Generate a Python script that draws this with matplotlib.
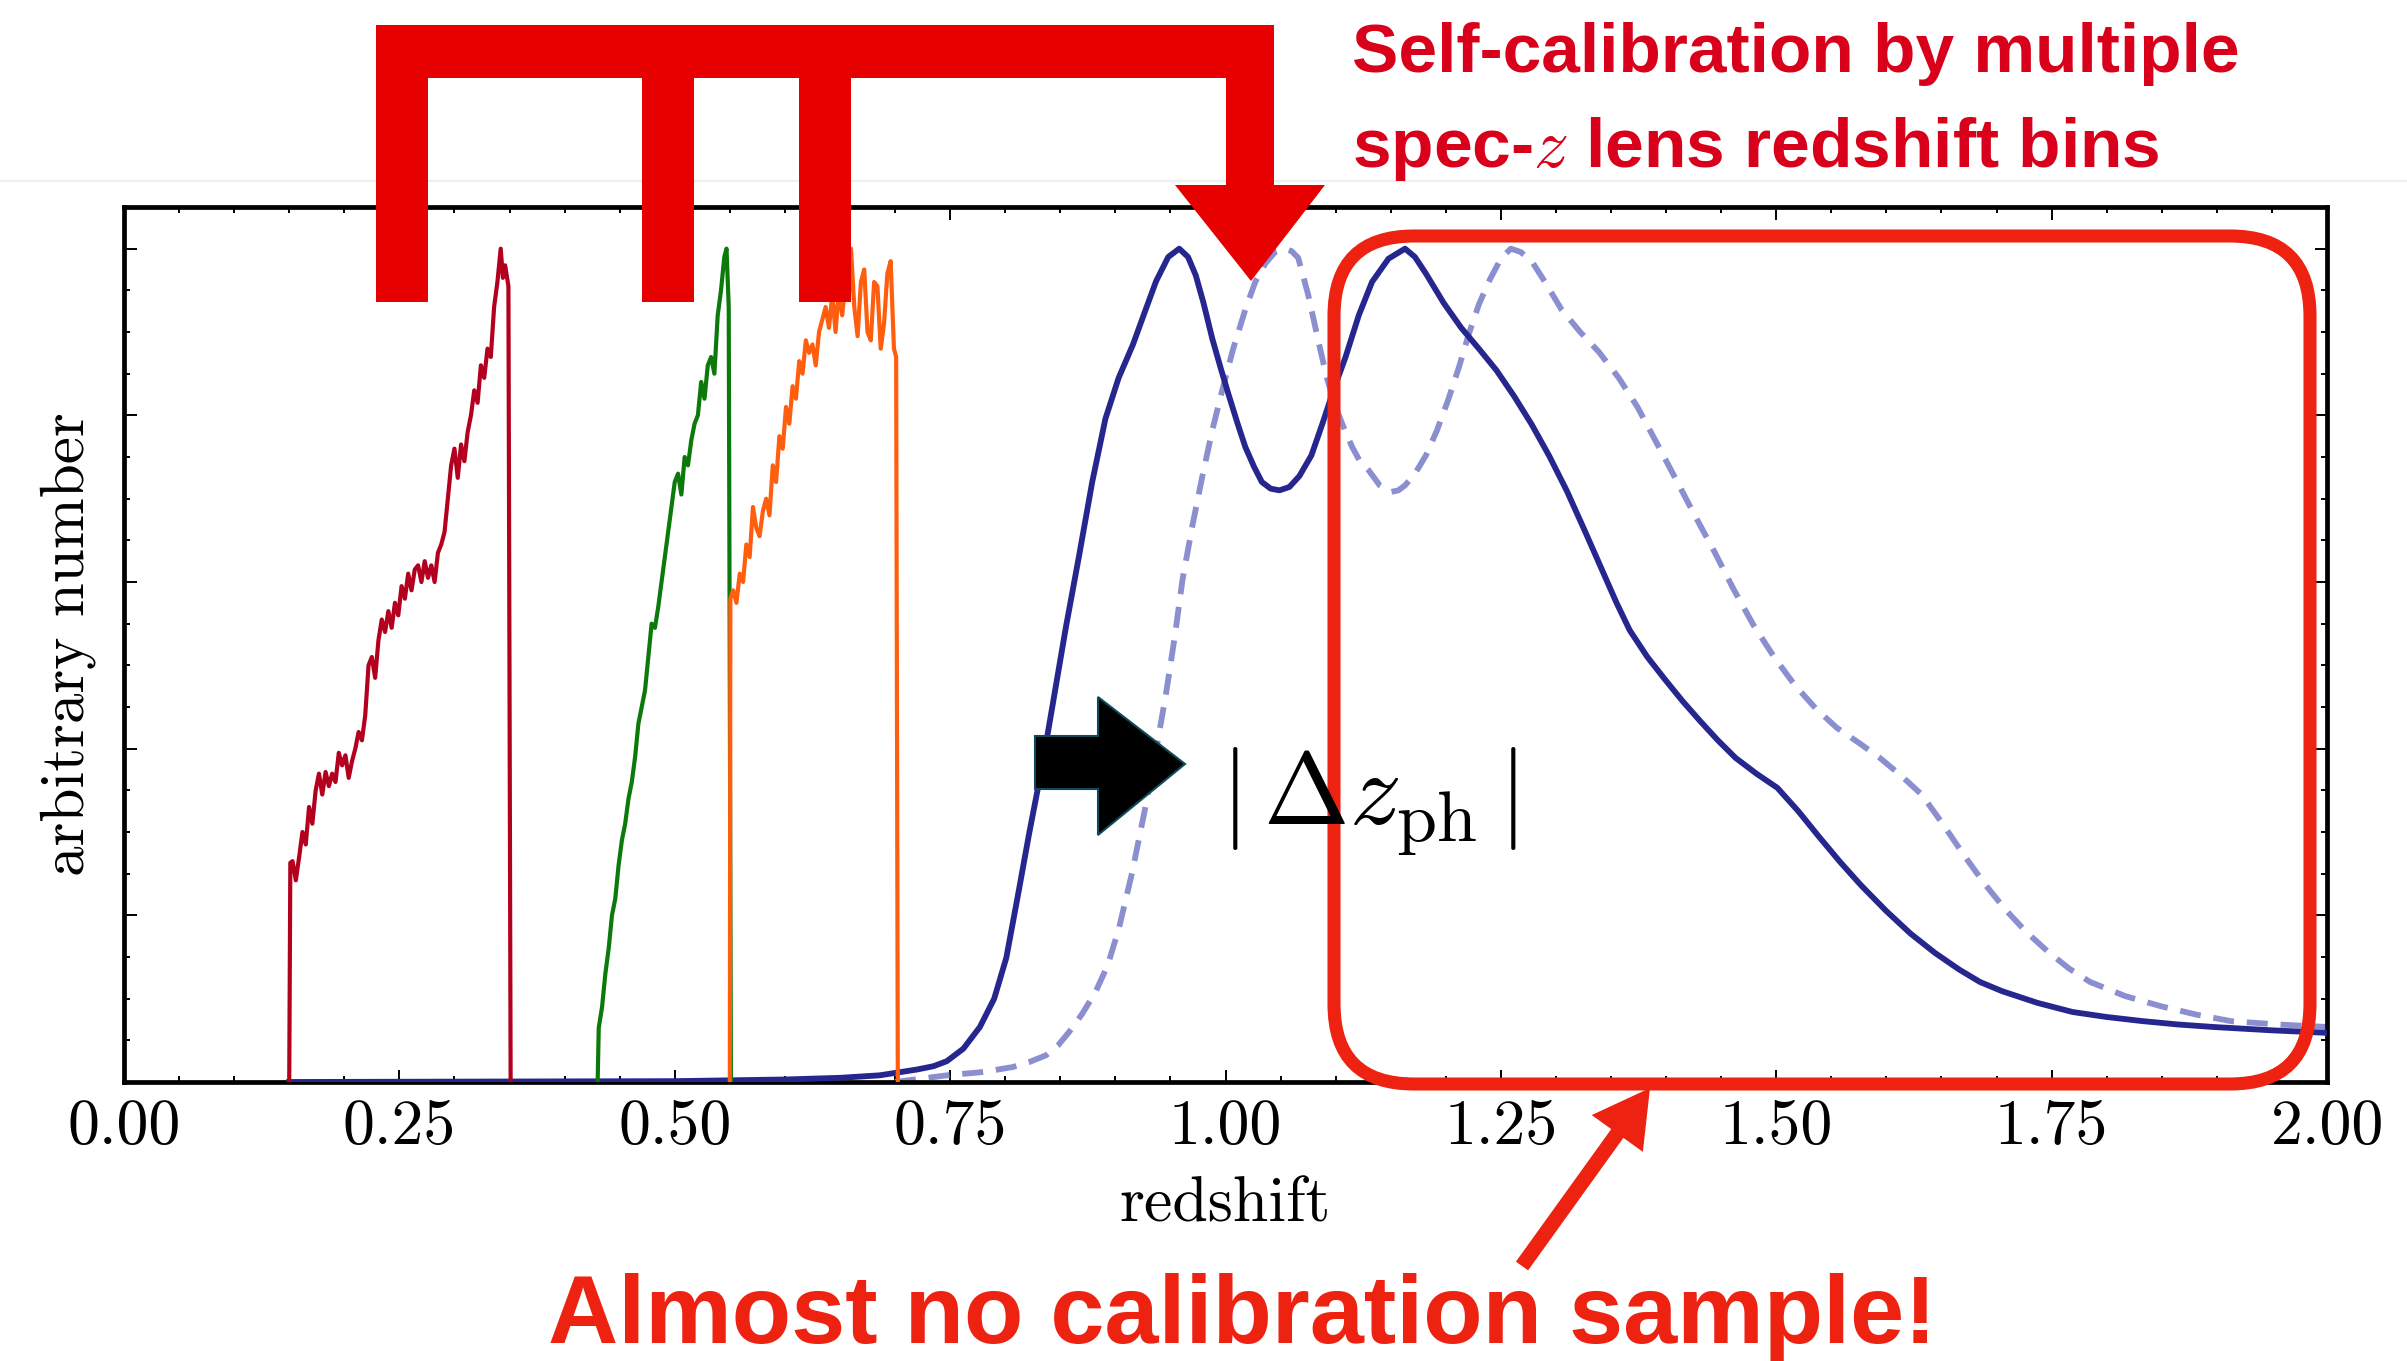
import matplotlib
matplotlib.use("Agg")
import matplotlib.pyplot as plt
from matplotlib.patches import Rectangle, Polygon, FancyBboxPatch, FancyArrow
from matplotlib.ticker import MultipleLocator, FormatStrFormatter

plt.rcParams["mathtext.fontset"] = "cm"
plt.rcParams["axes.formatter.use_mathtext"] = True

# ---- spec-z lens samples (three redshift bins) ----
red_z = [0.150, 0.151, 0.153, 0.156, 0.159, 0.162, 0.165, 0.168, 0.171, 0.174,
         0.177, 0.180, 0.183, 0.186, 0.189, 0.192, 0.195, 0.198, 0.201, 0.204,
         0.207, 0.210, 0.213, 0.216, 0.219, 0.222, 0.225, 0.228, 0.231, 0.234,
         0.237, 0.240, 0.243, 0.246, 0.249, 0.252, 0.255, 0.258, 0.261, 0.264,
         0.267, 0.270, 0.273, 0.276, 0.279, 0.282, 0.285, 0.288, 0.291, 0.294,
         0.297, 0.300, 0.303, 0.306, 0.309, 0.312, 0.315, 0.318, 0.321, 0.324,
         0.327, 0.330, 0.333, 0.336, 0.339, 0.342, 0.344, 0.346, 0.349, 0.351]
red_n = [0.000, 0.263, 0.265, 0.242, 0.270, 0.300, 0.285, 0.330, 0.310, 0.350,
         0.370, 0.345, 0.372, 0.355, 0.370, 0.360, 0.395, 0.380, 0.392, 0.365,
         0.385, 0.400, 0.420, 0.410, 0.440, 0.500, 0.510, 0.485, 0.530, 0.555,
         0.540, 0.565, 0.545, 0.575, 0.560, 0.595, 0.580, 0.610, 0.590, 0.615,
         0.620, 0.600, 0.625, 0.605, 0.620, 0.600, 0.635, 0.645, 0.660, 0.700,
         0.740, 0.760, 0.725, 0.765, 0.745, 0.780, 0.800, 0.830, 0.815, 0.860,
         0.845, 0.880, 0.870, 0.930, 0.960, 1.000, 0.965, 0.980, 0.955, 0.000]

green_z = [0.430, 0.431, 0.434, 0.437, 0.440, 0.443, 0.446, 0.449, 0.452, 0.455,
           0.458, 0.461, 0.464, 0.467, 0.470, 0.473, 0.476, 0.479, 0.482, 0.485,
           0.488, 0.491, 0.494, 0.497, 0.500, 0.503, 0.506, 0.509, 0.512, 0.515,
           0.518, 0.521, 0.524, 0.527, 0.530, 0.533, 0.536, 0.539, 0.542, 0.545,
           0.547, 0.549, 0.551]
green_n = [0.000, 0.065, 0.090, 0.130, 0.160, 0.200, 0.220, 0.260, 0.290, 0.310,
           0.340, 0.360, 0.390, 0.430, 0.450, 0.470, 0.510, 0.550, 0.545, 0.570,
           0.600, 0.630, 0.660, 0.690, 0.720, 0.730, 0.705, 0.750, 0.740, 0.770,
           0.790, 0.800, 0.840, 0.820, 0.860, 0.870, 0.850, 0.920, 0.950, 0.990,
           1.000, 0.930, 0.000]

orange_z = [0.5500, 0.5505, 0.553, 0.556, 0.559, 0.562, 0.565, 0.568, 0.571, 0.574,
            0.577, 0.580, 0.583, 0.586, 0.589, 0.592, 0.595, 0.598, 0.601, 0.604,
            0.607, 0.610, 0.613, 0.616, 0.619, 0.622, 0.625, 0.628, 0.631, 0.634,
            0.637, 0.640, 0.643, 0.646, 0.649, 0.652, 0.655, 0.658, 0.660, 0.663,
            0.666, 0.669, 0.672, 0.675, 0.678, 0.681, 0.684, 0.687, 0.690, 0.693,
            0.696, 0.699, 0.701, 0.7025]
orange_n = [0.000, 0.580, 0.590, 0.575, 0.610, 0.600, 0.645, 0.630, 0.690, 0.665,
            0.655, 0.685, 0.700, 0.680, 0.740, 0.720, 0.775, 0.760, 0.810, 0.790,
            0.835, 0.820, 0.865, 0.850, 0.890, 0.875, 0.885, 0.860, 0.900, 0.915,
            0.930, 0.905, 0.945, 0.900, 0.950, 0.920, 0.960, 0.940, 1.000, 0.930,
            0.895, 0.960, 0.975, 0.900, 0.890, 0.960, 0.955, 0.880, 0.910, 0.970,
            0.985, 0.880, 0.870, 0.000]

# ---- photometric source redshift distribution: estimated and shifted ----
phz_z = [0.150, 0.500, 0.600, 0.650, 0.686, 0.720, 0.735, 0.747, 0.762, 0.777,
         0.790, 0.801, 0.811, 0.822, 0.833, 0.843, 0.855, 0.867, 0.879, 0.891,
         0.903, 0.916, 0.927, 0.937, 0.948, 0.958, 0.966, 0.973, 0.980, 0.988,
         0.996, 1.003, 1.011, 1.018, 1.026, 1.033, 1.041, 1.049, 1.058, 1.067,
         1.078, 1.088, 1.098, 1.109, 1.121, 1.133, 1.148, 1.163, 1.172, 1.182,
         1.198, 1.214, 1.230, 1.246, 1.262, 1.278, 1.294, 1.310, 1.326, 1.342,
         1.355, 1.367, 1.383, 1.399, 1.415, 1.431, 1.447, 1.463, 1.482, 1.501,
         1.520, 1.539, 1.558, 1.577, 1.600, 1.622, 1.644, 1.666, 1.685, 1.705,
         1.737, 1.769, 1.800, 1.833, 1.865, 1.897, 1.950, 2.000]
phz_n = [0.000, 0.001, 0.003, 0.005, 0.008, 0.015, 0.019, 0.025, 0.040, 0.066,
         0.100, 0.149, 0.220, 0.300, 0.375, 0.452, 0.545, 0.631, 0.720, 0.796,
         0.845, 0.885, 0.925, 0.961, 0.990, 1.000, 0.990, 0.968, 0.935, 0.892,
         0.855, 0.824, 0.790, 0.762, 0.738, 0.720, 0.712, 0.710, 0.714, 0.727,
         0.752, 0.790, 0.830, 0.870, 0.920, 0.960, 0.988, 1.000, 0.990, 0.970,
         0.935, 0.905, 0.880, 0.854, 0.823, 0.789, 0.751, 0.709, 0.662, 0.614,
         0.575, 0.542, 0.510, 0.483, 0.457, 0.433, 0.410, 0.389, 0.370, 0.353,
         0.325, 0.294, 0.264, 0.236, 0.205, 0.178, 0.155, 0.135, 0.120, 0.109,
         0.095, 0.084, 0.078, 0.073, 0.069, 0.066, 0.062, 0.059]

shift_z = [0.700, 0.747, 0.780, 0.807, 0.822, 0.837, 0.848, 0.858, 0.870, 0.882,
           0.893, 0.903, 0.915, 0.927, 0.937, 0.946, 0.954, 0.961, 0.970, 0.979,
           0.988, 0.997, 1.007, 1.018, 1.027, 1.036, 1.045, 1.054, 1.060, 1.066,
           1.075, 1.085, 1.092, 1.100, 1.108, 1.115, 1.122, 1.130, 1.140, 1.150,
           1.157, 1.163, 1.172, 1.182, 1.192, 1.202, 1.212, 1.221, 1.230, 1.240,
           1.250, 1.259, 1.268, 1.278, 1.291, 1.305, 1.322, 1.339, 1.357, 1.374,
           1.391, 1.409, 1.426, 1.444, 1.461, 1.479, 1.498, 1.517, 1.536, 1.555,
           1.575, 1.594, 1.613, 1.632, 1.651, 1.670, 1.689, 1.708, 1.727, 1.747,
           1.766, 1.785, 1.817, 1.849, 1.881, 1.913, 1.956, 2.000]
shift_n = [0.000, 0.008, 0.012, 0.018, 0.024, 0.032, 0.044, 0.060, 0.082, 0.108,
           0.140, 0.183, 0.250, 0.328, 0.398, 0.466, 0.535, 0.603, 0.668, 0.727,
           0.782, 0.830, 0.880, 0.927, 0.960, 0.982, 0.996, 1.000, 0.997, 0.989,
           0.945, 0.885, 0.845, 0.810, 0.783, 0.762, 0.745, 0.734, 0.716, 0.708,
           0.710, 0.716, 0.730, 0.752, 0.782, 0.818, 0.858, 0.898, 0.933, 0.963,
           0.988, 1.000, 0.996, 0.985, 0.958, 0.927, 0.900, 0.876, 0.845, 0.810,
           0.768, 0.723, 0.680, 0.636, 0.592, 0.549, 0.510, 0.476, 0.448, 0.425,
           0.407, 0.389, 0.368, 0.345, 0.310, 0.273, 0.238, 0.207, 0.180, 0.156,
           0.136, 0.120, 0.103, 0.091, 0.081, 0.073, 0.069, 0.066]

x_ticks = [0.00, 0.25, 0.50, 0.75, 1.00, 1.25, 1.50, 1.75, 2.00]

W, H = 2407, 1361
fig = plt.figure(figsize=(W / 100, H / 100), dpi=100)
fig.patch.set_facecolor("white")

ax = fig.add_axes([124 / W, 1 - 1082 / H, (2327 - 124) / W, (1082 - 207) / H])
ax.plot(shift_z, shift_n, color="#8b8fd0", lw=4.2, ls=(0, (3.6, 2.2)), zorder=2)
ax.plot(phz_z, phz_n, color="#26268f", lw=4.2, zorder=3,
        solid_joinstyle="round")
ax.plot(red_z, red_n, color="#b3001e", lw=3.0, zorder=4)
ax.plot(green_z, green_n, color="#0b7a0b", lw=3.0, zorder=4)
ax.plot(orange_z, orange_n, color="#ff5e0e", lw=3.0, zorder=4)

ax.set_xlim(0, 2.0)
ax.set_ylim(0, 1.05)
ax.set_xticks(x_ticks)
ax.xaxis.set_major_formatter(FormatStrFormatter("%.2f"))
ax.xaxis.set_minor_locator(MultipleLocator(0.05))
ax.yaxis.set_major_locator(MultipleLocator(0.2))
ax.yaxis.set_minor_locator(MultipleLocator(0.05))
ax.tick_params(which="both", direction="in", top=True, right=True,
               labelleft=False, width=1.4, color="black")
ax.tick_params(which="major", length=9, pad=12)
ax.tick_params(which="minor", length=4.5)
for lab in ax.get_xticklabels():
    lab.set_fontfamily("cmr10")
    lab.set_fontsize(46)
for sp in ax.spines.values():
    sp.set_linewidth(3.4)

ax.set_xlabel("redshift", fontfamily="cmr10", fontsize=46, labelpad=14)
ax.set_ylabel("arbitrary number", fontfamily="cmr10", fontsize=44, labelpad=20)

# ---- overlay in figure pixel units for the annotations ----
ov = fig.add_axes([0, 0, 1, 1], zorder=10)
ov.set_xlim(0, W)
ov.set_ylim(H, 0)
ov.axis("off")
ov.patch.set_alpha(0)

ov.plot([0, W], [181, 181], color="#efefef", lw=1.5, zorder=0)

bracket = "#e60000"
ov.add_patch(Rectangle((376, 25), 1274 - 376, 53, color=bracket, lw=0))
for x0, x1 in [(376, 428), (642, 694), (799, 851)]:
    ov.add_patch(Rectangle((x0, 25), x1 - x0, 302 - 25, color=bracket, lw=0))
ov.add_patch(Rectangle((1226, 25), 48, 188 - 25, color=bracket, lw=0))
ov.add_patch(Polygon([(1175, 185), (1325, 185), (1251, 281)], closed=True,
                     color=bracket, lw=0))

ov.text(1352, 72, "Self-calibration by multiple", color="#d9001b",
        fontsize=50, fontweight="bold", fontfamily="Liberation Sans",
        ha="left", va="baseline")
ov.text(1352, 167, "spec-$z$ lens redshift bins", color="#d9001b",
        fontsize=50, fontweight="bold", fontfamily="Liberation Sans",
        ha="left", va="baseline")

# shift arrow and label
ov.add_patch(Polygon([(1035, 736), (1098, 736), (1098, 697), (1185, 764),
                      (1098, 835), (1098, 789), (1035, 789)], closed=True,
                     facecolor="black", edgecolor="#0e4a5a", lw=1.5))
ov.text(1220, 825, r"$|\,\Delta z_{\rm ph}\,|$", color="black", fontsize=74,
        ha="left", va="baseline")

# high-redshift region box and callout
callout = "#ee2211"
ov.add_patch(FancyBboxPatch((1334, 236), 2310 - 1334, 1084 - 236,
                            boxstyle="round,pad=0,rounding_size=80",
                            facecolor="none", edgecolor=callout, lw=9.4))
ov.add_patch(FancyArrow(1522, 1266, 1650 - 1522, 1088 - 1266, width=15,
                        head_width=63, head_length=56,
                        length_includes_head=True, color=callout, lw=0))
ov.text(548, 1343, "Almost no calibration sample!", color=callout,
        fontsize=70, fontweight="bold", fontfamily="Liberation Sans",
        ha="left", va="baseline")

fig.savefig("out.png", dpi=100)
